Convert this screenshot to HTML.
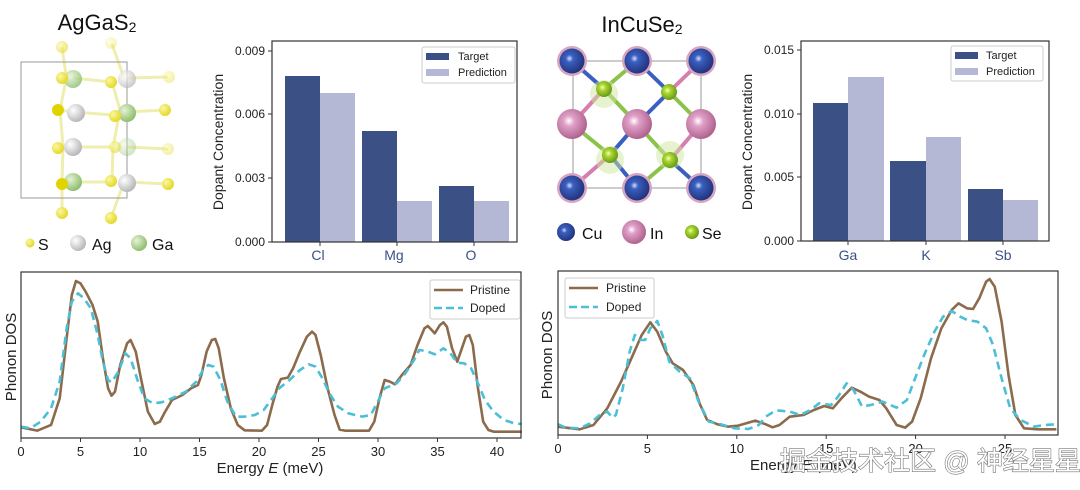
<!DOCTYPE html>
<html><head><meta charset="utf-8"><style>
body{margin:0;background:#fff;width:1080px;height:490px;overflow:hidden}
svg{display:block;font-family:"Liberation Sans",Arial,sans-serif}
</style></head><body>
<svg width="1080" height="490" viewBox="0 0 1080 490" xmlns="http://www.w3.org/2000/svg">
<defs>
<radialGradient id="gS" cx="35%" cy="35%" r="65%"><stop offset="0" stop-color="#fbf7a0"/><stop offset="1" stop-color="#e4d92a"/></radialGradient>
<radialGradient id="gAg" cx="35%" cy="35%" r="65%"><stop offset="0" stop-color="#fff"/><stop offset="1" stop-color="#b9b9bb"/></radialGradient>
<radialGradient id="gGa" cx="35%" cy="35%" r="65%"><stop offset="0" stop-color="#e6f2d6"/><stop offset="1" stop-color="#8fbf70"/></radialGradient>
<radialGradient id="gCu" cx="40%" cy="40%" r="60%"><stop offset="0" stop-color="#cfe0ff"/><stop offset="0.25" stop-color="#3b5fc0"/><stop offset="1" stop-color="#22357e"/></radialGradient>
<radialGradient id="gIn" cx="40%" cy="40%" r="60%"><stop offset="0" stop-color="#fff"/><stop offset="0.3" stop-color="#e0a0c8"/><stop offset="1" stop-color="#b0648f"/></radialGradient>
<radialGradient id="gSe" cx="40%" cy="40%" r="60%"><stop offset="0" stop-color="#f4ffb0"/><stop offset="0.35" stop-color="#a8d530"/><stop offset="1" stop-color="#6a9a18"/></radialGradient>
</defs>

<text x="97" y="30" font-size="22" text-anchor="middle" fill="#111">AgGaS<tspan font-size="14" dy="2">2</tspan></text>
<text x="642" y="32" font-size="22" text-anchor="middle" fill="#111">InCuSe<tspan font-size="14" dy="2">2</tspan></text>

<g>
<g stroke="#ecea9a" stroke-width="3" opacity="0.8">
<line x1="62" y1="47" x2="66" y2="75"/><line x1="112" y1="44" x2="124" y2="78"/>
<line x1="73" y1="78" x2="111" y2="82"/><line x1="127" y1="78" x2="168" y2="77"/>
<line x1="58" y1="110" x2="74" y2="112"/><line x1="74" y1="112" x2="113" y2="115"/><line x1="127" y1="112" x2="165" y2="110"/>
<line x1="73" y1="147" x2="112" y2="147"/><line x1="127" y1="147" x2="168" y2="149"/>
<line x1="73" y1="182" x2="112" y2="182"/><line x1="127" y1="182" x2="168" y2="184"/>
<line x1="66" y1="80" x2="60" y2="110"/><line x1="60" y1="110" x2="63" y2="147"/><line x1="63" y1="147" x2="62" y2="182"/>
<line x1="112" y1="82" x2="120" y2="110"/><line x1="120" y1="110" x2="113" y2="147"/><line x1="113" y1="147" x2="112" y2="182"/>
<line x1="62" y1="182" x2="62" y2="212"/><line x1="124" y1="182" x2="111" y2="218"/>
</g>
<rect x="21" y="62" width="106" height="136" fill="none" stroke="#999" stroke-width="1"/>
<circle cx="62" cy="47" r="6" fill="url(#gS)" opacity="0.6"/>
<circle cx="111" cy="43" r="6" fill="url(#gS)" opacity="0.3"/>
<circle cx="169" cy="77" r="6" fill="url(#gS)" opacity="0.4"/>
<circle cx="168" cy="149" r="6" fill="url(#gS)" opacity="0.4"/>
<circle cx="73" cy="79" r="9" fill="url(#gGa)" opacity="0.8"/>
<circle cx="62" cy="78" r="6" fill="url(#gS)"/>
<circle cx="127" cy="79" r="9" fill="url(#gAg)" opacity="0.7"/>
<circle cx="111" cy="82" r="6" fill="url(#gS)"/>
<circle cx="76" cy="113" r="9" fill="url(#gAg)"/>
<circle cx="58" cy="110" r="6" fill="#e0d400"/>
<circle cx="127" cy="113" r="9" fill="url(#gGa)"/>
<circle cx="115" cy="116" r="6" fill="url(#gS)"/>
<circle cx="165" cy="110" r="6" fill="url(#gS)"/>
<circle cx="73" cy="147" r="9" fill="url(#gAg)"/>
<circle cx="58" cy="148" r="6" fill="url(#gS)"/>
<circle cx="127" cy="147" r="9" fill="url(#gGa)" opacity="0.4"/>
<circle cx="115" cy="147" r="6" fill="url(#gS)" opacity="0.6"/>
<circle cx="73" cy="182" r="9" fill="url(#gGa)"/>
<circle cx="62" cy="184" r="6" fill="#e0d400"/>
<circle cx="127" cy="183" r="9" fill="url(#gAg)"/>
<circle cx="111" cy="181" r="6" fill="url(#gS)"/>
<circle cx="168" cy="184" r="6" fill="url(#gS)"/>
<circle cx="62" cy="213" r="6" fill="url(#gS)"/>
<circle cx="111" cy="218" r="6" fill="url(#gS)"/>
<circle cx="30" cy="243" r="4.5" fill="url(#gS)"/>
<text x="38" y="250" font-size="16" fill="#111">S</text>
<circle cx="78" cy="243" r="8" fill="url(#gAg)"/>
<text x="92" y="250" font-size="16" fill="#111">Ag</text>
<circle cx="139" cy="243" r="8" fill="url(#gGa)"/>
<text x="152" y="250" font-size="16" fill="#111">Ga</text>
</g>

<g>
<rect x="573" y="61" width="128" height="127" fill="none" stroke="#999" stroke-width="1"/>
<g stroke-width="4">
<line x1="572" y1="61" x2="604" y2="89" stroke="#3b5fc0"/><line x1="637" y1="61" x2="604" y2="89" stroke="#8bc34a"/>
<line x1="637" y1="61" x2="669" y2="92" stroke="#3b5fc0"/><line x1="701" y1="61" x2="669" y2="92" stroke="#d47fae"/>
<line x1="604" y1="89" x2="572" y2="124" stroke="#d47fae"/><line x1="604" y1="89" x2="637" y2="124" stroke="#8bc34a"/>
<line x1="669" y1="92" x2="637" y2="124" stroke="#3b5fc0"/><line x1="669" y1="92" x2="701" y2="124" stroke="#8bc34a"/>
<line x1="572" y1="124" x2="610" y2="155" stroke="#8bc34a"/><line x1="637" y1="124" x2="610" y2="155" stroke="#3b5fc0"/>
<line x1="637" y1="124" x2="670" y2="160" stroke="#8bc34a"/><line x1="701" y1="124" x2="670" y2="160" stroke="#d47fae"/>
<line x1="610" y1="155" x2="572" y2="188" stroke="#d47fae"/><line x1="610" y1="155" x2="637" y2="188" stroke="#3b5fc0"/>
<line x1="670" y1="160" x2="637" y2="188" stroke="#8bc34a"/><line x1="670" y1="160" x2="701" y2="188" stroke="#3b5fc0"/>
</g>
<circle cx="604" cy="94" r="14" fill="#cfe6a0" opacity="0.5"/>
<circle cx="610" cy="160" r="14" fill="#cfe6a0" opacity="0.5"/>
<circle cx="670" cy="155" r="14" fill="#cfe6a0" opacity="0.5"/>
<g>
<circle cx="572" cy="61" r="15" fill="#d8a4c4"/><circle cx="572" cy="61" r="12.5" fill="url(#gCu)"/>
<circle cx="637" cy="61" r="15" fill="#d8a4c4"/><circle cx="637" cy="61" r="12.5" fill="url(#gCu)"/>
<circle cx="701" cy="61" r="15" fill="#d8a4c4"/><circle cx="701" cy="61" r="12.5" fill="url(#gCu)"/>
<circle cx="572" cy="188" r="15" fill="#d8a4c4"/><circle cx="572" cy="188" r="12.5" fill="url(#gCu)"/>
<circle cx="637" cy="188" r="15" fill="#d8a4c4"/><circle cx="637" cy="188" r="12.5" fill="url(#gCu)"/>
<circle cx="701" cy="188" r="15" fill="#d8a4c4"/><circle cx="701" cy="188" r="12.5" fill="url(#gCu)"/>
<circle cx="572" cy="124" r="15" fill="url(#gIn)"/>
<circle cx="637" cy="124" r="15" fill="url(#gIn)"/>
<circle cx="701" cy="124" r="15" fill="url(#gIn)"/>
<circle cx="604" cy="89" r="8" fill="url(#gSe)"/>
<circle cx="669" cy="92" r="8" fill="url(#gSe)"/>
<circle cx="610" cy="155" r="8" fill="url(#gSe)"/>
<circle cx="670" cy="160" r="8" fill="url(#gSe)"/>
</g>
<circle cx="566" cy="232" r="9" fill="url(#gCu)"/>
<text x="582" y="239" font-size="16" fill="#111">Cu</text>
<circle cx="634" cy="232" r="12" fill="url(#gIn)"/>
<text x="650" y="239" font-size="16" fill="#111">In</text>
<circle cx="692" cy="232" r="7" fill="url(#gSe)"/>
<text x="702" y="239" font-size="16" fill="#111">Se</text>
</g>

<g font-size="12" fill="#222">
<rect x="285" y="76" width="35" height="166" fill="#3b5185"/>
<rect x="320" y="93" width="35" height="149" fill="#b4b8d4"/>
<rect x="362" y="131" width="35" height="111" fill="#3b5185"/>
<rect x="397" y="201" width="35" height="41" fill="#b4b8d4"/>
<rect x="439" y="186" width="35" height="56" fill="#3b5185"/>
<rect x="474" y="201" width="35" height="41" fill="#b4b8d4"/>
<rect x="272" y="41" width="245" height="201" fill="none" stroke="#333" stroke-width="1.2"/>
<g stroke="#333"><line x1="268" y1="51" x2="272" y2="51"/><line x1="268" y1="114" x2="272" y2="114"/><line x1="268" y1="178" x2="272" y2="178"/><line x1="268" y1="242" x2="272" y2="242"/>
<line x1="320" y1="242" x2="320" y2="246"/><line x1="397" y1="242" x2="397" y2="246"/><line x1="474" y1="242" x2="474" y2="246"/></g>
<text x="265" y="55" text-anchor="end">0.009</text>
<text x="265" y="118" text-anchor="end">0.006</text>
<text x="265" y="182" text-anchor="end">0.003</text>
<text x="265" y="246" text-anchor="end">0.000</text>
<g font-size="14" fill="#3b5185" text-anchor="middle"><text x="318" y="260">Cl</text><text x="394" y="260">Mg</text><text x="471" y="260">O</text></g>
<text transform="translate(223,142) rotate(-90)" font-size="14" text-anchor="middle">Dopant Concentration</text>
<rect x="422" y="47" width="93" height="36" fill="#fff" stroke="#ccc" rx="2"/>
<rect x="426" y="53" width="23" height="7" fill="#3b5185"/><text x="458" y="60" font-size="11">Target</text>
<rect x="426" y="69" width="23" height="7" fill="#b4b8d4"/><text x="458" y="76" font-size="11">Prediction</text>
</g>

<g font-size="12" fill="#222">
<rect x="813" y="103" width="35" height="138" fill="#3b5185"/>
<rect x="848" y="77" width="36" height="164" fill="#b4b8d4"/>
<rect x="890" y="161" width="36" height="80" fill="#3b5185"/>
<rect x="926" y="137" width="35" height="104" fill="#b4b8d4"/>
<rect x="968" y="189" width="35" height="52" fill="#3b5185"/>
<rect x="1003" y="200" width="35" height="41" fill="#b4b8d4"/>
<rect x="801" y="41" width="248" height="200" fill="none" stroke="#333" stroke-width="1.2"/>
<g stroke="#333"><line x1="797" y1="50" x2="801" y2="50"/><line x1="797" y1="114" x2="801" y2="114"/><line x1="797" y1="177" x2="801" y2="177"/><line x1="797" y1="241" x2="801" y2="241"/>
<line x1="848" y1="241" x2="848" y2="245"/><line x1="926" y1="241" x2="926" y2="245"/><line x1="1003" y1="241" x2="1003" y2="245"/></g>
<text x="794" y="54" text-anchor="end">0.015</text>
<text x="794" y="118" text-anchor="end">0.010</text>
<text x="794" y="181" text-anchor="end">0.005</text>
<text x="794" y="245" text-anchor="end">0.000</text>
<g font-size="14" fill="#3b5185" text-anchor="middle"><text x="848" y="260">Ga</text><text x="926" y="260">K</text><text x="1003" y="260">Sb</text></g>
<text transform="translate(752,142) rotate(-90)" font-size="14" text-anchor="middle">Dopant Concentration</text>
<rect x="951" y="46" width="92" height="35" fill="#fff" stroke="#ccc" rx="2"/>
<rect x="955" y="52" width="23" height="7" fill="#3b5185"/><text x="986" y="59" font-size="11">Target</text>
<rect x="955" y="68" width="23" height="7" fill="#b4b8d4"/><text x="986" y="75" font-size="11">Prediction</text>
</g>

<g transform="matrix(0.3457,0,0,0.3333,-0.8,265)" fill="none" stroke-linejoin="round">
<path vector-effect="non-scaling-stroke" stroke="#8c6b4c" stroke-width="2.6" d="M63,487 L110,497 L150,480 L175,400 L195,220 L210,90 L222,48 L235,55 L250,80 L270,120 L285,170 L300,280 L315,370 L325,392 L335,380 L350,300 L370,235 L380,225 L395,260 L410,340 L430,440 L450,477 L465,470 L480,440 L500,405 L530,390 L555,370 L575,360 L585,330 L600,260 L615,225 L625,222 L635,250 L650,340 L670,430 L690,480 L710,496 L760,497 L775,480 L790,420 L805,365 L815,342 L835,338 L850,310 L870,260 L890,215 L905,200 L915,210 L930,270 L950,370 L970,450 L985,494 L1000,497 L1070,497 L1085,470 L1100,400 L1115,345 L1130,350 L1145,358 L1165,330 L1190,300 L1210,240 L1230,190 L1240,183 L1260,205 L1275,180 L1285,172 L1295,185 L1310,250 L1325,290 L1335,260 L1350,215 L1360,210 L1370,240 L1385,370 L1400,470 L1415,495 L1430,500 L1512,500"/>
<path vector-effect="non-scaling-stroke" stroke="#4bbfd6" stroke-width="2.6" stroke-dasharray="8,5" d="M63,485 L90,490 L120,470 L150,430 L175,350 L195,190 L210,110 L228,85 L245,100 L265,130 L285,210 L300,290 L315,345 L325,352 L345,320 L365,265 L380,280 L400,345 L420,400 L445,415 L470,412 L500,400 L540,380 L570,350 L590,315 L605,300 L620,305 L640,345 L660,410 L685,455 L710,455 L740,450 L765,435 L790,400 L810,370 L840,345 L870,315 L895,298 L915,305 L935,340 L955,385 L980,425 L1010,445 L1050,455 L1075,450 L1095,410 L1115,370 L1150,355 L1175,325 L1200,285 L1215,255 L1235,258 L1260,268 L1285,250 L1305,265 L1325,293 L1345,295 L1365,310 L1385,355 L1405,405 L1430,440 L1460,465 L1490,475 L1512,477"/>
</g>
<g font-size="13" fill="#222">
<rect x="21" y="272" width="500" height="166" fill="none" stroke="#333" stroke-width="1.2"/>
<g stroke="#333">
<line x1="21" y1="438" x2="21" y2="442"/><line x1="80.5" y1="438" x2="80.5" y2="442"/><line x1="140" y1="438" x2="140" y2="442"/><line x1="199.5" y1="438" x2="199.5" y2="442"/><line x1="259" y1="438" x2="259" y2="442"/><line x1="318.5" y1="438" x2="318.5" y2="442"/><line x1="378" y1="438" x2="378" y2="442"/><line x1="437.5" y1="438" x2="437.5" y2="442"/><line x1="497" y1="438" x2="497" y2="442"/></g>
<g text-anchor="middle"><text x="21" y="456">0</text><text x="80.5" y="456">5</text><text x="140" y="456">10</text><text x="199.5" y="456">15</text><text x="259" y="456">20</text><text x="318.5" y="456">25</text><text x="378" y="456">30</text><text x="437.5" y="456">35</text><text x="497" y="456">40</text></g>
<text x="270" y="473" font-size="15" text-anchor="middle">Energy <tspan font-style="italic">E</tspan> (meV)</text>
<text transform="translate(16,357) rotate(-90)" font-size="15" text-anchor="middle">Phonon DOS</text>
<rect x="430" y="280" width="90" height="39" fill="#fff" stroke="#ccc" rx="2"/>
<line x1="434" y1="290" x2="463" y2="290" stroke="#8c6b4c" stroke-width="2.6"/>
<line x1="434" y1="308" x2="463" y2="308" stroke="#4bbfd6" stroke-width="2.6" stroke-dasharray="8,4"/>
<text x="470" y="294" font-size="12">Pristine</text><text x="470" y="312" font-size="12">Doped</text>
</g>

<g transform="matrix(0.3444,0,0,0.3333,538.4,265)" fill="none" stroke-linejoin="round">
<path vector-effect="non-scaling-stroke" stroke="#8c6b4c" stroke-width="2.6" d="M57,485 L120,493 L160,480 L200,430 L240,350 L270,280 L300,210 L325,172 L345,200 L370,260 L390,295 L420,315 L450,360 L470,420 L490,465 L520,478 L550,485 L580,482 L630,467 L660,478 L680,487 L700,480 L730,455 L770,450 L800,435 L830,423 L855,430 L880,400 L910,368 L935,380 L960,395 L990,405 L1010,430 L1040,480 L1065,488 L1085,470 L1110,400 L1140,280 L1170,190 L1200,135 L1220,115 L1245,130 L1262,132 L1280,100 L1300,50 L1310,42 L1325,65 L1345,170 L1365,330 L1385,450 L1410,490 L1450,493 L1504,493"/>
<path vector-effect="non-scaling-stroke" stroke="#4bbfd6" stroke-width="2.6" stroke-dasharray="8,5" d="M57,478 L80,488 L120,490 L150,475 L180,448 L200,440 L215,458 L225,450 L245,370 L265,260 L280,210 L295,225 L310,225 L325,190 L345,168 L360,210 L380,290 L410,320 L440,340 L465,410 L495,470 L530,478 L570,490 L610,492 L640,480 L660,455 L690,436 L730,440 L760,450 L790,435 L815,415 L850,420 L870,395 L895,355 L915,375 L940,425 L965,420 L1000,410 L1040,428 L1070,405 L1090,350 L1120,270 L1150,200 L1175,155 L1200,138 L1225,155 L1245,165 L1275,170 L1300,190 L1320,240 L1345,340 L1370,430 L1400,465 L1440,485 L1470,480 L1504,478"/>
</g>
<g font-size="13" fill="#222">
<rect x="558" y="271" width="500" height="164" fill="none" stroke="#333" stroke-width="1.2"/>
<g stroke="#333"><line x1="558" y1="435" x2="558" y2="439"/><line x1="647.4" y1="435" x2="647.4" y2="439"/><line x1="736.8" y1="435" x2="736.8" y2="439"/><line x1="826.2" y1="435" x2="826.2" y2="439"/><line x1="915.6" y1="435" x2="915.6" y2="439"/><line x1="1005" y1="435" x2="1005" y2="439"/></g>
<g text-anchor="middle"><text x="558" y="453">0</text><text x="647.4" y="453">5</text><text x="736.8" y="453">10</text><text x="826.2" y="453">15</text><text x="915.6" y="453">20</text><text x="1005" y="453">25</text></g>
<text x="750" y="470" font-size="15">Energy <tspan font-style="italic">E</tspan> (meV)</text>
<text transform="translate(552,355) rotate(-90)" font-size="15" text-anchor="middle">Phonon DOS</text>
<rect x="565" y="278" width="89" height="40" fill="#fff" stroke="#ccc" rx="2"/>
<line x1="569" y1="288" x2="598" y2="288" stroke="#8c6b4c" stroke-width="2.6"/>
<line x1="569" y1="307" x2="598" y2="307" stroke="#4bbfd6" stroke-width="2.6" stroke-dasharray="8,4"/>
<text x="606" y="292" font-size="12">Pristine</text><text x="606" y="311" font-size="12">Doped</text>
</g>

<text x="780" y="470" font-size="26" fill="#fff" stroke="#777" stroke-width="1.2" paint-order="stroke" font-family="'Liberation Sans','Noto Sans CJK SC',sans-serif">掘金技术社区 @ 神经星星</text>
</svg>
</body></html>
